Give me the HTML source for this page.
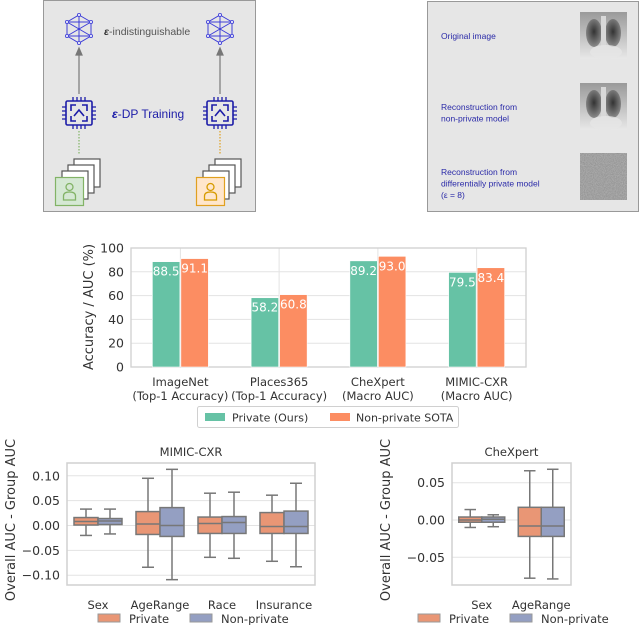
<!DOCTYPE html>
<html><head><meta charset="utf-8"><style>
html,body{margin:0;padding:0;background:#fff;}
svg{display:block;font-family:"DejaVu Sans","Liberation Sans",sans-serif;}
</style></head><body>
<svg id="root" width="640" height="625" viewBox="0 0 640 625">
<defs>
  <filter id="noise" x="0" y="0" width="100%" height="100%"><feTurbulence type="fractalNoise" baseFrequency="0.9" numOctaves="2" seed="3"/><feColorMatrix type="matrix" values="0 0 0 0 0.5  0 0 0 0 0.5  0 0 0 0 0.5  0 0 0 0.9 0"/></filter>
  <radialGradient id="lung" cx="0.5" cy="0.45" r="0.55"><stop offset="0" stop-color="#333"/><stop offset="1" stop-color="#8a8a8a"/></radialGradient>
  <linearGradient id="xbg" x1="0" y1="0" x2="0" y2="1"><stop offset="0" stop-color="#9a9a9a"/><stop offset="0.6" stop-color="#c8c8c8"/><stop offset="1" stop-color="#e8e8e8"/></linearGradient>
  <g id="hex">
    <g stroke="#3d3dd8" stroke-width="1" fill="none">
      <polygon points="0,-14 12,-7 12,7 0,14 -12,7 -12,-7"/>
      <line x1="0" y1="-14" x2="0" y2="14"/><line x1="-12" y1="-7" x2="12" y2="7"/><line x1="12" y1="-7" x2="-12" y2="7"/>
      <line x1="-12" y1="-7" x2="12" y2="-7"/><line x1="-12" y1="7" x2="12" y2="7"/>
    </g>
    <g fill="#dfe0f8" stroke="#3d3dd8" stroke-width="0.8">
      <circle cx="0" cy="-14" r="1.6"/><circle cx="12" cy="-7" r="1.6"/><circle cx="12" cy="7" r="1.6"/><circle cx="0" cy="14" r="1.6"/><circle cx="-12" cy="7" r="1.6"/><circle cx="-12" cy="-7" r="1.6"/>
    </g>
  </g>
  <g id="chip" stroke="#1c1ca8" fill="none" stroke-width="1.6">
    <rect x="-13" y="-12" width="26" height="24" rx="1.5"/>
    <path d="M-8,-2 v-6 h5 M3,-8 h5 v6 M8,3 v5 h-5 M-3,8 h-5 v-5"/>
    <path d="M-5,3 L0,-3 L5,3"/>
    <path d="M-6,-12 v-4 M-2,-12 v-4 M2,-12 v-4 M6,-12 v-4 M-6,12 v4 M-2,12 v4 M2,12 v4 M6,12 v4 M-13,-6 h-4 M-13,-2 h-4 M-13,2 h-4 M-13,6 h-4 M13,-6 h4 M13,-2 h4 M13,2 h4 M13,6 h4" stroke-width="1.3"/>
  </g>
  <g id="pages" stroke="#555" stroke-width="1.2" fill="#fff">
    <rect x="19" y="0" width="26" height="28"/>
    <rect x="13" y="6" width="26" height="28"/>
    <rect x="7" y="12" width="26" height="28"/>
  </g>
  <g id="xray">
    <rect width="47" height="47" fill="url(#xbg)"/>
    <ellipse cx="14" cy="21" rx="8" ry="14" fill="url(#lung)"/>
    <ellipse cx="33" cy="21" rx="8" ry="14" fill="url(#lung)"/>
    <rect x="21" y="4" width="5" height="32" fill="#d8d8d8"/>
    <ellipse cx="26" cy="40" rx="16" ry="7" fill="#e6e6e6" opacity="0.8"/>
  </g>
</defs>

<g>
  <rect x="43.5" y="0.5" width="212" height="211" fill="#e6e6e6" stroke="#999"/>
  <use href="#hex" x="79" y="29"/>
  <use href="#hex" x="220" y="29"/>
  <text x="104" y="35" font-size="10.5" fill="#555" font-family="Liberation Sans, sans-serif"><tspan font-weight="bold" font-style="italic" fill="#333">ε</tspan>-indistinguishable</text>
  <g stroke="#777" stroke-width="1.2" fill="#777">
    <line x1="79" y1="94" x2="79" y2="53"/><polygon points="76,55 79,48 82,55"/>
    <line x1="220" y1="94" x2="220" y2="53"/><polygon points="217,55 220,48 223,55"/>
  </g>
  <use href="#chip" x="79" y="113"/>
  <use href="#chip" x="220" y="113"/>
  <text x="112" y="118" font-size="12" fill="#1c1ca8" font-family="Liberation Sans, sans-serif"><tspan font-weight="bold" font-style="italic">ε</tspan>-DP Training</text>
  <line x1="79" y1="131" x2="79" y2="154" stroke="#82b366" stroke-width="1.2" stroke-dasharray="1.5,1.5"/>
  <line x1="220" y1="131" x2="220" y2="154" stroke="#e0a020" stroke-width="1.2" stroke-dasharray="1.5,1.5"/>
  <use href="#pages" x="55" y="159"/>
  <use href="#pages" x="196" y="159"/>
  <g>
    <rect x="55.5" y="177.5" width="28" height="28" fill="#d5e8d4" stroke="#82b366" stroke-width="1.2"/>
    <circle cx="69.5" cy="187" r="3.5" fill="none" stroke="#82b366" stroke-width="1.3"/>
    <path d="M63.5,200 v-4 q0,-4 6,-4 q6,0 6,4 v4 z" fill="none" stroke="#82b366" stroke-width="1.3"/>
  </g>
  <g>
    <rect x="196.5" y="177.5" width="28" height="28" fill="#ffe6cc" stroke="#e0a020" stroke-width="1.2"/>
    <circle cx="210.5" cy="187" r="3.5" fill="none" stroke="#d79b00" stroke-width="1.3"/>
    <path d="M204.5,200 v-4 q0,-4 6,-4 q6,0 6,4 v4 z" fill="none" stroke="#d79b00" stroke-width="1.3"/>
  </g>
</g>

<g>
  <rect x="427.5" y="1.5" width="211" height="210" fill="#e6e6e6" stroke="#999"/>
  <g font-size="8.5" fill="#2a2aa8" font-family="Liberation Sans, sans-serif">
    <text x="441" y="39">Original image</text>
    <text x="441" y="110"><tspan x="441">Reconstruction from</tspan><tspan x="441" dy="11.5">non-private model</tspan></text>
    <text x="441" y="175"><tspan x="441">Reconstruction from</tspan><tspan x="441" dy="11.5">differentially private model</tspan><tspan x="441" dy="11.5">(ε = 8)</tspan></text>
  </g>
  <use href="#xray" x="580" y="12"/>
  <use href="#xray" x="580" y="83"/>
  <rect x="580" y="153" width="47" height="47" fill="#8a8a8a"/>
  <rect x="580" y="153" width="47" height="47" filter="url(#noise)"/>
</g>

<g id="bar-chart"></g>
<g id="box1"></g>
<g id="box2"></g>
</svg>

<script>
const barCategories = ["ImageNet\n(Top-1 Accuracy)", "Places365\n(Top-1 Accuracy)", "CheXpert\n(Macro AUC)", "MIMIC-CXR\n(Macro AUC)"];
const privateValues = [88.5, 58.2, 89.2, 79.5];
const nonPrivateValues = [91.1, 60.8, 93.0, 83.4];
const barTicks = [0, 20, 40, 60, 80, 100];

const mimicGroups = ["Sex", "AgeRange", "Race", "Insurance"];
const mimicPrivate = [[-0.020,0.001,0.008,0.016,0.033],[-0.084,-0.018,0.003,0.028,0.095],[-0.064,-0.016,0.004,0.017,0.065],[-0.072,-0.016,-0.002,0.026,0.061]];
const mimicNonPrivate = [[-0.017,0.002,0.009,0.014,0.033],[-0.109,-0.022,0.000,0.036,0.113],[-0.066,-0.016,0.006,0.018,0.067],[-0.083,-0.016,-0.002,0.029,0.085]];
const mimicTicks = [-0.10, -0.05, 0.00, 0.05, 0.10];
const chexGroups = ["Sex", "AgeRange"];
const chexPrivate = [[-0.010,-0.003,0.000,0.004,0.014],[-0.078,-0.022,-0.008,0.017,0.066]];
const chexNonPrivate = [[-0.009,-0.003,0.001,0.004,0.007],[-0.079,-0.022,-0.008,0.017,0.068]];
const chexTicks = [-0.05, 0.00, 0.05];

const NS = "http://www.w3.org/2000/svg";
function mk(parent, tag, attrs, text) {
  const e = document.createElementNS(NS, tag);
  for (const k in attrs) e.setAttribute(k, attrs[k]);
  if (text !== undefined) e.textContent = text;
  parent.appendChild(e);
  return e;
}

(function () {
  const g = document.getElementById("bar-chart");
  const L = 131, R = 526, T = 248, B = 367;
  const y = v => B - (v / 100) * (B - T);
  const gw = (R - L) / barCategories.length;
  const xc = i => L + gw * (i + 0.5);
  const bw = 27.5;
  barTicks.forEach(t => {
    const gl = mk(g, "line", {x1: L, x2: R, y1: y(t), y2: y(t), stroke: "#e3e3e3", "stroke-width": 1});
    
    
    const tl = mk(g, "text", {x: L - 7, y: y(t) + 4.5, "text-anchor": "end", "font-size": 12.5, fill: "#333"}, String(t));
    
    
  });
  barCategories.forEach((c, i) => {
    const vl = mk(g, "line", {x1: xc(i), x2: xc(i), y1: T, y2: B, stroke: "#e3e3e3", "stroke-width": 1});
    
    
  });
  mk(g, "rect", {x: L, y: T, width: R - L, height: B - T, fill: "none", stroke: "#d0d0d0", "stroke-width": 1.3});
  barCategories.forEach((c, i) => {
    const series = [[privateValues[i], "#66c2a5", -1], [nonPrivateValues[i], "#fc8d62", 0]];
    series.forEach(([v, col, off], k) => {
      const bx = xc(i) + off * bw + (k === 0 ? -0.5 : 0.5);
      const r = mk(g, "rect", {x: bx, y: y(v), width: bw, height: B - y(v), fill: col, stroke: "#fff", "stroke-width": 0.6});
      
      
      const lb = mk(g, "text", {x: bx + bw / 2, y: y(v) + 14, "text-anchor": "middle", "font-size": 12, fill: "#fff"}, v.toFixed(1));
      
      
    });
    c.split("\n").forEach((p, j) => {
      const xl = mk(g, "text", {x: xc(i), y: 386 + j * 14, "text-anchor": "middle", "font-size": 11.5, fill: "#333"}, p);
      
      
    });
  });
  const yt = mk(g, "text", {x: 0, y: 0, transform: "translate(93,307) rotate(-90)", "text-anchor": "middle", "font-size": 13, fill: "#333"}, "Accuracy / AUC (%)");
  
  
  const lg = mk(g, "g", {});
  
  
  mk(lg, "rect", {x: 197.5, y: 406.5, width: 261, height: 21, rx: 2, fill: "#fff", stroke: "#d0d0d0"});
  mk(lg, "rect", {x: 205, y: 413, width: 20, height: 8, fill: "#66c2a5"});
  mk(lg, "text", {x: 232, y: 421.5, "font-size": 11, fill: "#333"}, "Private (Ours)");
  mk(lg, "rect", {x: 330, y: 413, width: 20, height: 8, fill: "#fc8d62"});
  mk(lg, "text", {x: 356, y: 421.5, "font-size": 11, fill: "#333"}, "Non-private SOTA");
})();

function boxPlot(gid, groups, priv, nonpriv, ticks, cfg) {
  const g = document.getElementById(gid);
  const {L, R, T, B, zeroY, ppu, bw, title, ylabX, legX} = cfg;
  const y = v => zeroY - v * ppu;
  const gw = (R - L) / groups.length;
  const xc = i => L + gw * (i + 0.5);
  ticks.forEach(t => {
    const gl = mk(g, "line", {x1: L, x2: R, y1: y(t), y2: y(t), stroke: "#e3e3e3", "stroke-width": 1});
    
    
    const lab = (t < 0 ? "\u2212" : "") + Math.abs(t).toFixed(2);
    const tl = mk(g, "text", {x: L - 7, y: y(t) + 4.5, "text-anchor": "end", "font-size": 12.5, fill: "#333"}, lab);
    
    
  });
  mk(g, "rect", {x: L, y: T, width: R - L, height: B - T, fill: "none", stroke: "#d0d0d0", "stroke-width": 1.5});
  const tt = mk(g, "text", {x: (L + R) / 2, y: T - 7, "text-anchor": "middle", "font-size": 11.5, fill: "#333"}, title);
  
  
  groups.forEach((name, i) => {
    [[priv[i], "#e99675", -1, 'box-private'], [nonpriv[i], "#949fc2", 0, 'box-non-private']].forEach(([d, col, off, nm]) => {
      const x0 = xc(i) + off * bw, xm = x0 + bw / 2;
      const bg = mk(g, "g", {stroke: "#777", "stroke-width": 1.5});
      
      
      mk(bg, "line", {x1: xm, x2: xm, y1: y(d[4]), y2: y(d[3])});
      mk(bg, "line", {x1: xm, x2: xm, y1: y(d[1]), y2: y(d[0])});
      mk(bg, "line", {x1: xm - bw / 4, x2: xm + bw / 4, y1: y(d[4]), y2: y(d[4])});
      mk(bg, "line", {x1: xm - bw / 4, x2: xm + bw / 4, y1: y(d[0]), y2: y(d[0])});
      mk(bg, "rect", {x: x0, y: y(d[3]), width: bw, height: y(d[1]) - y(d[3]), fill: col});
      mk(bg, "line", {x1: x0, x2: x0 + bw, y1: y(d[2]), y2: y(d[2])});
    });
    const xl = mk(g, "text", {x: xc(i), y: 609, "text-anchor": "middle", "font-size": 11.5, fill: "#333"}, name);
    
    
  });
  const yt = mk(g, "text", {x: 0, y: 0, transform: `translate(${ylabX},520) rotate(-90)`, "text-anchor": "middle", "font-size": 13, fill: "#333"}, "Overall AUC - Group AUC");
  
  
  const lg = mk(g, "g", {});
  
  
  mk(lg, "rect", {x: legX, y: 614, width: 22, height: 8, fill: "#e99675", stroke: "#999"});
  mk(lg, "text", {x: legX + 31, y: 623, "font-size": 11.5, fill: "#333"}, "Private");
  mk(lg, "rect", {x: legX + 92, y: 614, width: 22, height: 8, fill: "#949fc2", stroke: "#999"});
  mk(lg, "text", {x: legX + 123, y: 623, "font-size": 11.5, fill: "#333"}, "Non-private");
}
boxPlot("box1", mimicGroups, mimicPrivate, mimicNonPrivate, mimicTicks,
  {L: 67, R: 315, T: 463, B: 585, zeroY: 525.5, ppu: 497, bw: 24, title: "MIMIC-CXR", ylabX: 15, legX: 98});
boxPlot("box2", chexGroups, chexPrivate, chexNonPrivate, chexTicks,
  {L: 452, R: 571, T: 463, B: 585, zeroY: 520, ppu: 746, bw: 23, title: "CheXpert", ylabX: 390, legX: 418});
</script>
</body></html>
